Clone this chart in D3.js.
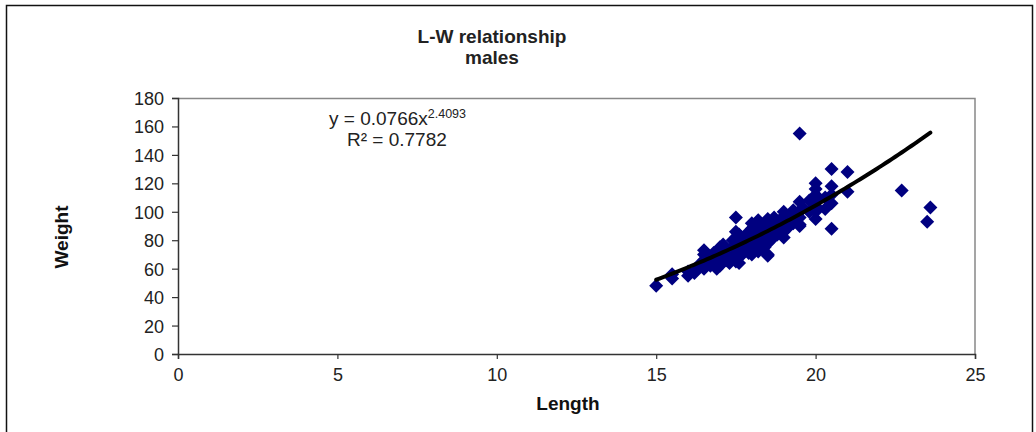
<!DOCTYPE html>
<html>
<head>
<meta charset="utf-8">
<script src="https://cdn.jsdelivr.net/npm/d3@7"></script>
<style>
  body { margin: 0; background: #fff; }
  text { font-family: "Liberation Sans", Arial, sans-serif; }
</style>
</head>
<body>
<svg id="chart" width="1036" height="432"></svg>
<script>
// lengte en gewicht van de mannetjes
var lengths = [15.0, 15.5, 15.5, 16.0, 16.0, 16.2, 16.5, 16.5, 16.5, 16.5, 16.5, 16.7, 16.8,
  17.0, 17.0, 17.0, 17.0, 17.0, 17.2, 17.3, 17.5, 17.5, 17.5, 17.5, 17.5, 17.5, 17.5, 17.5,
  17.7, 17.8, 17.8, 18.0, 18.0, 18.0, 18.0, 18.0, 18.0, 18.0, 18.2, 18.2, 18.3, 18.3, 18.5,
  18.5, 18.5, 18.5, 18.5, 18.5, 18.5, 18.7, 18.7, 18.8, 19.0, 19.0, 19.0, 19.0, 19.0, 19.0,
  19.3, 19.3, 19.5, 19.5, 19.5, 19.5, 19.5, 19.5, 20.0, 20.0, 20.0, 20.0, 20.0, 20.0, 20.0,
  20.3, 20.3, 20.5, 20.5, 20.5, 20.5, 20.5, 21.0, 21.0, 22.7, 23.5, 23.6,
  16.3, 16.6, 16.8, 17.0, 17.1, 17.2, 17.3, 17.4, 17.6, 17.6, 17.8, 17.9, 17.9, 18.1, 18.1,
  18.3, 18.4, 18.4, 18.6, 18.6, 18.8, 18.9, 19.1, 19.2, 19.4, 19.6, 19.8, 19.8, 16.9, 17.6,
  18.2, 16.4];
var weights = [48, 53, 56, 55, 58, 57, 60, 63, 66, 70, 73, 62, 65,
  62, 66, 68, 72, 75, 70, 64, 65, 68, 72, 75, 78, 82, 86, 96,
  70, 74, 80, 70, 73, 76, 80, 84, 88, 92, 78, 94, 77, 82, 69,
  70, 78, 82, 86, 90, 95, 88, 96, 84, 82, 86, 90, 94, 97, 100,
  92, 101, 90, 91, 96, 100, 107, 155, 95, 100, 104, 108, 112, 116, 120,
  110, 102, 88, 106, 112, 118, 130, 114, 128, 115, 93, 103,
  60, 68, 71, 70, 77, 66, 73, 80, 76, 84, 78, 86, 71, 82, 90,
  86, 92, 75, 80, 92, 90, 94, 88, 96, 98, 103, 100, 108, 60, 64,
  72, 64];

// trendlijn (power) zoals in de figuur
var trendA = 0.0766, trendB = 2.4093;
var trendRange = [15.0, 23.6];

var xTicks = [0, 5, 10, 15, 20, 25];
var yTicks = [0, 20, 40, 60, 80, 100, 120, 140, 160, 180];

var margin = {top: 98, right: 61, bottom: 78, left: 178};
var width = 1036 - margin.left - margin.right;
var height = 432 - margin.top - margin.bottom;

var fontSize = "19px";

var svg = d3.select("#chart");

// buitenste kader
svg.append("rect")
    .attr("x", 6.5).attr("y", 5.5)
    .attr("width", 1026).attr("height", 440)
    .attr("fill", "none").attr("stroke", "#111").attr("stroke-width", 1.5);

var g = svg.append("g")
    .attr("transform", "translate(" + margin.left + "," + margin.top + ")");

var x = d3.scaleLinear().domain([0, 25]).range([0, width]);
var y = d3.scaleLinear().domain([0, 180]).range([height, 0]);

// plotgebied rand (boven en rechts grijs)
g.append("path")
    .attr("d", "M0,0.5H" + width + "V" + height)
    .attr("fill", "none").attr("stroke", "#888").attr("stroke-width", 1.5);

// x-as
var xAxis = g.append("g")
    .attr("transform", "translate(0," + height + ")")
    .call(d3.axisBottom(x).tickValues(xTicks).tickSize(5).tickPadding(9));

// y-as
var yAxis = g.append("g")
    .call(d3.axisLeft(y).tickValues(yTicks).tickSize(6).tickPadding(8));

[xAxis, yAxis].forEach(function(a) {
  a.select(".domain").attr("stroke", "#333").attr("stroke-width", 1.5);
  a.selectAll(".tick line").attr("stroke", "#333").attr("stroke-width", 1.2);
  a.selectAll(".tick text")
      .attr("fill", "#222")
      .style("font-size", "18px")
      .style("font-family", "'Liberation Sans', Arial, sans-serif");
});
yAxis.selectAll(".tick text").attr("dy", "0.36em");

// punten (ruitjes)
var diamond = "M0,-7L7,0L0,7L-7,0Z";
g.selectAll(".dot")
    .data(d3.zip(lengths, weights))
    .enter().append("path")
    .attr("class", "dot")
    .attr("d", diamond)
    .attr("fill", "#000080")
    .attr("transform", function(d) { return "translate(" + x(d[0]) + "," + y(d[1]) + ")"; });

// trendlijn
var trendX = d3.range(trendRange[0], trendRange[1] + 0.001, 0.1);
var line = d3.line()
    .x(function(d) { return x(d); })
    .y(function(d) { return y(trendA * Math.pow(d, trendB)); });
g.append("path")
    .datum(trendX)
    .attr("d", line)
    .attr("fill", "none")
    .attr("stroke", "#000")
    .attr("stroke-width", 4)
    .attr("stroke-linecap", "round");

// titel
svg.append("text")
    .attr("x", 492).attr("y", 43)
    .attr("text-anchor", "middle")
    .style("font-size", fontSize).style("font-weight", "bold")
    .attr("fill", "#222")
    .text("L-W relationship");
svg.append("text")
    .attr("x", 492).attr("y", 64)
    .attr("text-anchor", "middle")
    .style("font-size", fontSize).style("font-weight", "bold")
    .attr("fill", "#222")
    .text("males");

// vergelijking
var eq = svg.append("text")
    .attr("x", 329).attr("y", 125)
    .style("font-size", fontSize)
    .attr("fill", "#222");
eq.append("tspan").text("y = 0.0766x");
eq.append("tspan").attr("dy", -7).style("font-size", "12.5px").text("2.4093");
svg.append("text")
    .attr("x", 347).attr("y", 146)
    .style("font-size", fontSize)
    .attr("fill", "#222")
    .text("R² = 0.7782");

// aslabels
svg.append("text")
    .attr("x", 568).attr("y", 410)
    .attr("text-anchor", "middle")
    .style("font-size", fontSize).style("font-weight", "bold")
    .attr("fill", "#111")
    .text("Length");
svg.append("text")
    .attr("transform", "translate(68,237) rotate(-90)")
    .attr("text-anchor", "middle")
    .style("font-size", fontSize).style("font-weight", "bold")
    .attr("fill", "#111")
    .text("Weight");
</script>
</body>
</html>
